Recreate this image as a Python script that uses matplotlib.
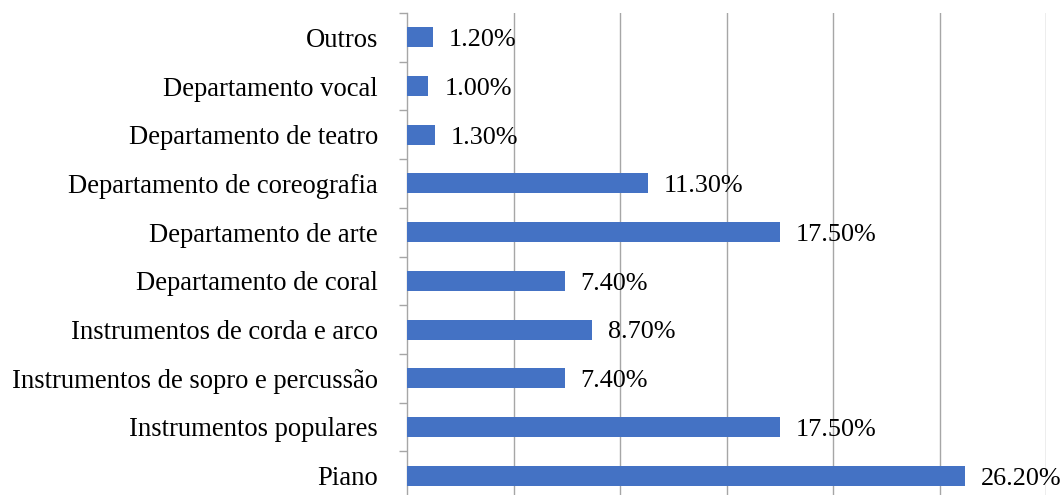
import matplotlib
matplotlib.use("Agg")
import matplotlib.pyplot as plt
import numpy as np

# Data (bottom to top as drawn)
categories = ['Piano', 'Instrumentos populares', 'Instrumentos de sopro e percussão',
              'Instrumentos de corda e arco', 'Departamento de coral', 'Departamento de arte',
              'Departamento de coreografia', 'Departamento de teatro', 'Departamento vocal', 'Outros']
values = [26.2, 17.5, 7.4, 8.7, 7.4, 17.5, 11.3, 1.3, 1.0, 1.2]

bar_color = "#4472C4"
grid_color = "#A6A6A6"
plt.rcParams['font.family'] = ['Liberation Serif', 'DejaVu Serif']

fig = plt.figure(figsize=(10.61, 4.95), dpi=100)
ax = fig.add_axes([407/1061, -5/495, 639/1061, 487/495])

y = np.arange(len(categories))
ax.barh(y, values, height=0.41, color=bar_color, zorder=3)
for yi, v in zip(y, values):
    ax.text(v + 0.75, yi - 0.06, f'{v:.2f}%', va='center', ha='left', fontsize=18.8, zorder=4)

ax.set_xlim(0, 30)
ax.set_ylim(-0.5, len(categories) - 0.5)
ax.set_xticks(np.arange(5, 31, 5))
ax.set_xticklabels([])
ax.tick_params(axis='x', length=0)
ax.grid(axis='x', color=grid_color, linewidth=1.0, zorder=0)

ax.set_yticks(y)
ax.set_yticklabels(categories, fontsize=19.2)
ax.tick_params(axis='y', which='major', length=0, pad=21)
ax.set_yticks(np.arange(-0.5, len(categories), 1), minor=True)
ax.tick_params(axis='y', which='minor', length=6, width=1, color=grid_color, direction='out')

for s in ['top', 'right', 'bottom']:
    ax.spines[s].set_visible(False)
ax.spines['left'].set_color(grid_color)
ax.spines['left'].set_linewidth(1.0)

fig.savefig('out.png', dpi=100)
